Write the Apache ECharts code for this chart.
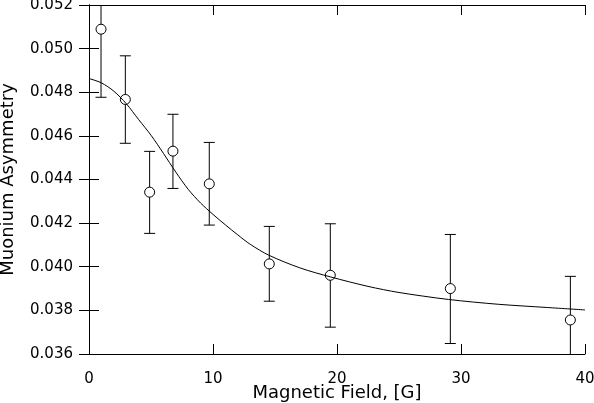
<!DOCTYPE html>
<html><head><meta charset="utf-8">
<script src="https://cdn.jsdelivr.net/npm/echarts@6.0.0/dist/echarts.min.js"></script>
<style>html,body{margin:0;padding:0;background:#fff}#c{width:594px;height:403px}</style>
</head><body><div id="c"></div>
<script>
// Measured points: magnetic field [G], asymmetry, error bar ends
const fieldG  = [0.97, 2.93, 4.89, 6.77, 9.70, 14.54, 19.46, 29.14, 38.82];
const asym    = [0.05089, 0.04767, 0.04342, 0.04530, 0.04380, 0.04013, 0.03961, 0.03900, 0.03756];
const errLow  = [0.04777, 0.04566, 0.04153, 0.04359, 0.04191, 0.03842, 0.03723, 0.03648, 0.03556];
const errHigh = [0.05401, 0.04967, 0.04529, 0.04699, 0.04570, 0.04185, 0.04197, 0.04148, 0.03956];

// Fitted curve
const fitField = [0, 1, 2, 3, 4, 5, 6, 7, 8, 9, 10, 11, 12, 13, 14.5, 17, 19.5, 22.5, 25, 29, 33, 37, 40];
const fitAsym  = [0.04863, 0.04843, 0.04805, 0.04748, 0.04675, 0.04603, 0.04520, 0.04434, 0.04355, 0.04292,
                  0.04240, 0.04192, 0.04146, 0.04103, 0.04053, 0.03995, 0.03953, 0.03910, 0.03882, 0.03850,
                  0.03828, 0.03813, 0.03802];

const xTicks = [0, 10, 20, 30, 40];
const yTicks = [0.036, 0.038, 0.040, 0.042, 0.044, 0.046, 0.048, 0.050, 0.052];

const xMin = xTicks[0], xMax = xTicks[xTicks.length - 1], xStep = xTicks[1] - xTicks[0];
const yMin = yTicks[0], yMax = yTicks[yTicks.length - 1], yStep = 0.002;

const FONT = 'DejaVu Sans';
const chart = echarts.init(document.getElementById('c'), null, {renderer: 'canvas'});

const baseAxis = {
  type: 'value',
  axisLine: {show: true, lineStyle: {color: '#000', width: 1}},
  axisTick: {show: true, inside: true, length: 10, lineStyle: {color: '#000', width: 1}},
  splitLine: {show: false}
};

const errData = fieldG.map((x, i) => [x, errLow[i], errHigh[i]]);

chart.setOption({
  animation: false,
  backgroundColor: '#fff',
  grid: {left: 89, right: 9, top: 5, bottom: 49, show: false, containLabel: false, outerBoundsMode: 'none'},
  xAxis: [
    Object.assign({}, baseAxis, {
      min: xMin, max: xMax, interval: xStep, position: 'bottom',
      name: 'Magnetic Field, [G]', nameLocation: 'middle', nameGap: 30, nameMoveOverlap: false,
      nameTextStyle: {fontFamily: FONT, fontSize: 18, color: '#000'},
      axisLabel: {margin: 18, fontFamily: FONT, fontSize: 15, color: '#000'}
    }),
    Object.assign({}, baseAxis, {
      min: xMin, max: xMax, interval: xStep, position: 'top',
      axisLabel: {show: false}
    })
  ],
  yAxis: [
    Object.assign({}, baseAxis, {
      min: yMin, max: yMax, interval: yStep, position: 'left',
      name: 'Muonium Asymmetry', nameLocation: 'middle', nameGap: 72, nameMoveOverlap: false,
      nameTextStyle: {fontFamily: FONT, fontSize: 18, color: '#000'},
      axisLabel: {margin: 16, fontFamily: FONT, fontSize: 15, color: '#000',
        formatter: v => v.toFixed(3)}
    }),
    Object.assign({}, baseAxis, {
      min: yMin, max: yMax, interval: yStep, position: 'right',
      axisLabel: {show: false}
    })
  ],
  series: [
    {
      type: 'custom', clip: true, z: 2,
      xAxisIndex: 0, yAxisIndex: 0,
      encode: {x: 0, y: [1, 2]},
      data: errData,
      renderItem: function (params, api) {
        const x = api.value(0);
        const lo = api.coord([x, api.value(1)]);
        const hi = api.coord([x, api.value(2)]);
        const cap = 5.5;
        const st = {stroke: '#000', lineWidth: 1, fill: null};
        return {
          type: 'group',
          children: [
            {type: 'line', shape: {x1: lo[0], y1: lo[1], x2: hi[0], y2: hi[1]}, style: st},
            {type: 'line', shape: {x1: lo[0] - cap, y1: lo[1], x2: lo[0] + cap, y2: lo[1]}, style: st},
            {type: 'line', shape: {x1: hi[0] - cap, y1: hi[1], x2: hi[0] + cap, y2: hi[1]}, style: st}
          ]
        };
      }
    },
    {
      type: 'scatter', z: 3,
      data: fieldG.map((x, i) => [x, asym[i]]),
      symbol: 'circle', symbolSize: 10,
      itemStyle: {color: '#fff', borderColor: '#000', borderWidth: 1, opacity: 1}
    },
    {
      type: 'line', z: 4,
      data: fitField.map((x, i) => [x, fitAsym[i]]),
      showSymbol: false, smooth: 0.3,
      lineStyle: {color: '#000', width: 1}
    }
  ]
});
</script>
</body></html>
